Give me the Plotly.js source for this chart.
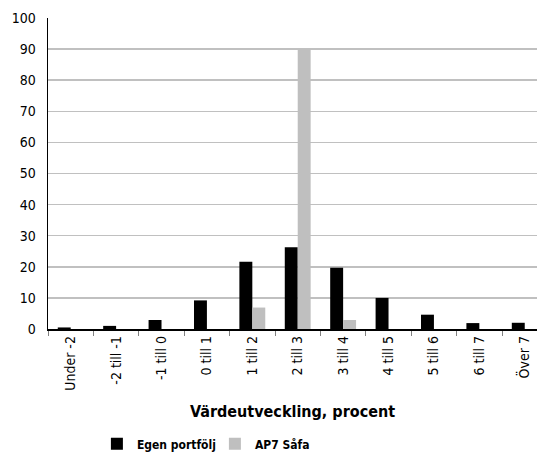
<!DOCTYPE html>
<html>
<head>
<meta charset="utf-8">
<script src="https://cdn.plot.ly/plotly-3.0.1.min.js"></script>
<style>
html,body{margin:0;padding:0;overflow:hidden;background:#fff}
svg text{font-stretch:condensed !important;}
</style>
</head>
<body>
<div id="chart" style="width:537px;height:452px"></div>
<script>
const categories = ["Under -2","-2 till -1","-1 till 0","0 till 1","1 till 2","2 till 3","3 till 4","4 till 5","5 till 6","6 till 7","Över 7"];
const egenPortfolj = [0.5, 1.0, 2.9, 9.2, 21.6, 26.3, 19.7, 10.0, 4.6, 1.9, 2.0];
const ap7Safa = [0, 0, 0, 0, 6.9, 90.0, 2.9, 0, 0, 0, 0];
const seriesNames = ["Egen portfölj", "AP7 Såfa"];
const yTicks = [0,10,20,30,40,50,60,70,80,90,100];

const font = "DejaVu Sans Condensed, DejaVu Sans, sans-serif";

const data = [
  {type:"bar", x:categories, y:egenPortfolj, name:seriesNames[0], marker:{color:"#000000"}},
  {type:"bar", x:categories, y:ap7Safa, name:seriesNames[1], marker:{color:"#bfbfbf"}}
];

const layout = {
  width:537, height:452,
  margin:{l:48, r:0, t:18, b:123},
  paper_bgcolor:"#fff", plot_bgcolor:"#fff",
  barmode:"group", bargap:0.43, bargroupgap:0,
  font:{family:font, size:13, color:"#000"},
  xaxis:{
    type:"category", automargin:false,
    range:[-0.5, 10.27],
    tickangle:-90,
    ticks:"outside", tickson:"boundaries", ticklen:5, tickcolor:"#808080", tickwidth:1,
    showline:true, linecolor:"#000", linewidth:1.5,
    showgrid:false,
    tickfont:{family:font, size:14, color:"#000"},
    title:{text:"Värdeutveckling, procent", font:{family:font, size:16, color:"#000", weight:"bold"}, standoff:16}
  },
  yaxis:{
    automargin:false,
    range:[0,100], tickvals:yTicks, ticktext:yTicks.map(String),
    showline:true, linecolor:"#000", linewidth:1.5,
    showgrid:true, gridcolor:"#c0c0c0", gridwidth:1.5,
    zeroline:false, ticks:"", ticklabelstandoff:8,
    tickfont:{family:font, size:14, color:"#000"}
  },
  legend:{
    orientation:"h", xref:"paper", x:0.1, xanchor:"left",
    yref:"container", y:0.018, yanchor:"middle",
    font:{family:font, size:12, color:"#000", weight:"bold"},
    entrywidth:73, entrywidthmode:"pixels", traceorder:"normal"
  },
  showlegend:true
};

Plotly.newPlot("chart", data, layout, {staticPlot:true, displayModeBar:false});
</script>
</body>
</html>
